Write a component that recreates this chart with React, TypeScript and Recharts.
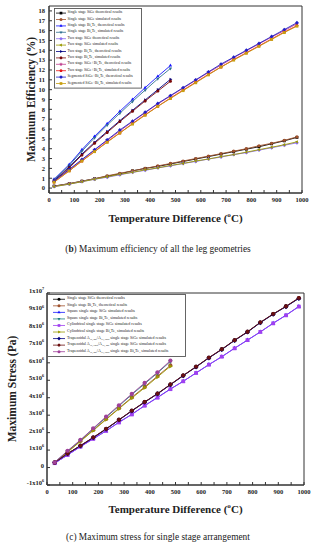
import React from "react";
import { LineChart, Line, XAxis, YAxis, ReferenceArea, Legend } from "recharts";

const FONT = '"Liberation Serif", "Times New Roman", serif';
const INK = "#222";

// ---- (b) maximum efficiency, % ----
const EFF_T = [20, 80, 130, 180, 230, 280, 330, 380, 430, 480, 530, 580, 630, 680, 730, 780, 830, 880, 930, 980];
const EFF_SS_SIGE_TH = [0.2, 0.45, 0.7, 0.95, 1.2, 1.45, 1.75, 2.0, 2.2, 2.45, 2.7, 2.95, 3.2, 3.45, 3.7, 3.95, 4.2, 4.5, 4.8, 5.15];
const EFF_SS_SIGE_SIM = [0.2, 0.45, 0.7, 0.95, 1.25, 1.5, 1.75, 2.0, 2.25, 2.5, 2.75, 3.0, 3.25, 3.5, 3.75, 4.0, 4.3, 4.55, 4.85, 5.2];
const EFF_SS_BT_TH = [0.9, 2.4, 3.9, 5.25, 6.55, 7.8, 9.0, 10.2, 11.35, 12.45];
const EFF_SS_BT_SIM = [0.85, 2.3, 3.75, 5.1, 6.4, 7.6, 8.8, 9.95, 11.1, 12.15];
const EFF_TS_SIGE_TH = [0.15, 0.4, 0.65, 0.9, 1.1, 1.35, 1.6, 1.8, 2.05, 2.25, 2.5, 2.7, 2.95, 3.15, 3.4, 3.6, 3.85, 4.1, 4.35, 4.6];
const EFF_TS_SIGE_SIM = [0.15, 0.4, 0.65, 0.9, 1.15, 1.4, 1.6, 1.85, 2.05, 2.3, 2.5, 2.75, 2.95, 3.2, 3.4, 3.65, 3.9, 4.15, 4.4, 4.7];
const EFF_TS_BT_TH = [0.75, 2.15, 3.45, 4.65, 5.75, 6.85, 7.9, 8.95, 10.0, 11.05];
const EFF_TS_BT_SIM = [0.7, 2.05, 3.35, 4.55, 5.65, 6.75, 7.8, 8.85, 9.85, 10.85];
const EFF_TS_MIX_TH = [0.7, 1.85, 2.85, 3.85, 4.85, 5.8, 6.75, 7.65, 8.55, 9.35, 10.15, 10.95, 11.75, 12.5, 13.25, 13.95, 14.65, 15.35, 16.0, 16.7];
const EFF_TS_MIX_SIM = [0.6, 1.75, 2.75, 3.7, 4.7, 5.6, 6.55, 7.45, 8.3, 9.15, 9.95, 10.75, 11.55, 12.3, 13.05, 13.75, 14.45, 15.15, 15.85, 16.5];
const EFF_SEG_TH = [0.7, 1.9, 2.9, 3.9, 4.9, 5.9, 6.8, 7.7, 8.6, 9.4, 10.2, 11.0, 11.8, 12.6, 13.3, 14.0, 14.7, 15.4, 16.1, 16.8];
const EFF_SEG_SIM = [0.6, 1.75, 2.75, 3.7, 4.65, 5.6, 6.5, 7.4, 8.3, 9.1, 9.9, 10.7, 11.5, 12.3, 13.0, 13.7, 14.4, 15.1, 15.8, 16.45];
const EFF_X_TICKS = [0, 50, 100, 150, 200, 250, 300, 350, 400, 450, 500, 550, 600, 650, 700, 750, 800, 850, 900, 950, 1000];
const EFF_Y_TICKS = [0, 1, 2, 3, 4, 5, 6, 7, 8, 9, 10, 11, 12, 13, 14, 15, 16, 17, 18];

// ---- (c) maximum stress, Pa ----
const ST_T = [30, 80, 130, 180, 230, 280, 330, 380, 430, 480, 530, 580, 630, 680, 730, 780, 830, 880, 930, 980];
const ST_SIGE_TH = [0.29e6, 0.8e6, 1.25e6, 1.72e6, 2.21e6, 2.73e6, 3.25e6, 3.75e6, 4.23e6, 4.75e6, 5.27e6, 5.77e6, 6.29e6, 6.77e6, 7.29e6, 7.77e6, 8.31e6, 8.79e6, 9.23e6, 9.7e6];
const ST_BT_TH = [0.28e6, 0.9e6, 1.52e6, 2.15e6, 2.78e6, 3.4e6, 4.02e6, 4.62e6, 5.24e6, 5.85e6];
const ST_SQ_SIGE = [0.25e6, 0.72e6, 1.2e6, 1.65e6, 2.1e6, 2.6e6, 3.05e6, 3.55e6, 4.02e6, 4.5e6, 4.94e6, 5.42e6, 5.9e6, 6.35e6, 6.84e6, 7.3e6, 7.77e6, 8.27e6, 8.73e6, 9.23e6];
const ST_SQ_BT = [0.3e6, 0.94e6, 1.56e6, 2.22e6, 2.88e6, 3.53e6, 4.18e6, 4.8e6, 5.42e6, 6.08e6];
const ST_CY_SIGE = [0.25e6, 0.72e6, 1.19e6, 1.64e6, 2.1e6, 2.58e6, 3.04e6, 3.54e6, 4.0e6, 4.49e6, 4.94e6, 5.42e6, 5.89e6, 6.35e6, 6.83e6, 7.3e6, 7.77e6, 8.26e6, 8.72e6, 9.22e6];
const ST_CY_BT = [0.28e6, 0.88e6, 1.5e6, 2.12e6, 2.75e6, 3.37e6, 3.98e6, 4.57e6, 5.19e6, 5.8e6];
const ST_TR1_SIGE = [0.29e6, 0.79e6, 1.24e6, 1.71e6, 2.2e6, 2.72e6, 3.24e6, 3.74e6, 4.22e6, 4.74e6, 5.26e6, 5.76e6, 6.28e6, 6.76e6, 7.28e6, 7.76e6, 8.3e6, 8.78e6, 9.22e6, 9.69e6];
const ST_TR2_SIGE = [0.29e6, 0.8e6, 1.26e6, 1.73e6, 2.22e6, 2.74e6, 3.26e6, 3.76e6, 4.24e6, 4.76e6, 5.28e6, 5.78e6, 6.3e6, 6.78e6, 7.3e6, 7.78e6, 8.32e6, 8.8e6, 9.24e6, 9.72e6];
const ST_TR1_BT = [0.3e6, 0.96e6, 1.58e6, 2.25e6, 2.92e6, 3.57e6, 4.22e6, 4.85e6, 5.46e6, 6.12e6];
const ST_X_TICKS = EFF_X_TICKS;
const ST_Y_TICKS = [-1e6, 0, 1e6, 2e6, 3e6, 4e6, 5e6, 6e6, 7e6, 8e6, 9e6, 1e7];

type Shape = "square" | "circle" | "up" | "down" | "left" | "right" | "diamond" | "hex" | "star" | "pent";
interface Series { key: string; name: string; color: string; shape: Shape; values: number[] }

const EFF_SERIES: Series[] = [
  { key: "a", name: "Single stage SiGe theoretical results", color: "#000000", shape: "square", values: EFF_SS_SIGE_TH },
  { key: "b", name: "Single stage SiGe simulated results", color: "#a0522d", shape: "circle", values: EFF_SS_SIGE_SIM },
  { key: "c", name: "Single stage Bi_{2}Te_{3} theoretical results", color: "#1515ff", shape: "up", values: EFF_SS_BT_TH },
  { key: "d", name: "Single stage Bi_{2}Te_{3} simulated results", color: "#2f7090", shape: "down", values: EFF_SS_BT_SIM },
  { key: "e", name: "Two stage SiGe theoretical results", color: "#8a6cf0", shape: "diamond", values: EFF_TS_SIGE_TH },
  { key: "f", name: "Two stage SiGe simulated results", color: "#9a9a00", shape: "left", values: EFF_TS_SIGE_SIM },
  { key: "g", name: "Two stage Bi_{2}Te_{3} theoretical results", color: "#000080", shape: "right", values: EFF_TS_BT_TH },
  { key: "h", name: "Two stage Bi_{2}Te_{3} simulated results", color: "#7a0a0a", shape: "hex", values: EFF_TS_BT_SIM },
  { key: "i", name: "Two stage SiGe+Bi_{2}Te_{3} theoretical results", color: "#c0408f", shape: "star", values: EFF_TS_MIX_TH },
  { key: "j", name: "Two stage SiGe+Bi_{2}Te_{3} simulated results", color: "#e81818", shape: "pent", values: EFF_TS_MIX_SIM },
  { key: "k", name: "Segmented SiGe+Bi_{2}Te_{3} theoretical results", color: "#2020c8", shape: "diamond", values: EFF_SEG_TH },
  { key: "l", name: "Segmented SiGe+Bi_{2}Te_{3} simulated results", color: "#c8a010", shape: "square", values: EFF_SEG_SIM },
];

const ST_SERIES: Series[] = [
  { key: "a", name: "Single stage SiGe theoretical results", color: "#000000", shape: "circle", values: ST_SIGE_TH },
  { key: "b", name: "Single stage Bi_{2}Te_{3} theoretical results", color: "#a0522d", shape: "circle", values: ST_BT_TH },
  { key: "c", name: "Square single stage SiGe simulated results", color: "#1515ff", shape: "up", values: ST_SQ_SIGE },
  { key: "d", name: "Square single stage Bi_{2}Te_{3} simulated results", color: "#208080", shape: "down", values: ST_SQ_BT },
  { key: "e", name: "Cylindrical single stage SiGe simulated results", color: "#a040f0", shape: "square", values: ST_CY_SIGE },
  { key: "f", name: "Cylindrical single stage Bi_{2}Te_{3} simulated results", color: "#9a9a00", shape: "right", values: ST_CY_BT },
  { key: "g", name: "Trapezoidal A_{Ni, hot}/A_{Ni, cold} single stage SiGe simulated results", color: "#000080", shape: "diamond", values: ST_TR1_SIGE },
  { key: "h", name: "Trapezoidal A_{Ni, cold}/A_{Ni, hot} single stage SiGe simulated results", color: "#6a1010", shape: "hex", values: ST_TR2_SIGE },
  { key: "i", name: "Trapezoidal A_{Ni, hot}/A_{Ni, cold} single stage Bi_{2}Te_{3} simulated results", color: "#a0409a", shape: "circle", values: ST_TR1_BT },
];

function buildRows(ts: number[], series: Series[]) {
  return ts.map((t, i) => {
    const row: Record<string, number | null> = { t };
    series.forEach((s) => { row[s.key] = i < s.values.length ? s.values[i] : null; });
    return row;
  });
}
const EFF_ROWS = buildRows(EFF_T, EFF_SERIES);
const ST_ROWS = buildRows(ST_T, ST_SERIES);

// "_{..}" = subscript, "^{..}" = superscript
function rich(s: string, fs: number) {
  const parts = s.split(/([_^]\{[^}]*\})/).filter(Boolean);
  let shift = 0;
  return parts.map((p, i) => {
    const m = /^([_^])\{(.*)\}$/.exec(p);
    if (m) {
      const target = m[1] === "_" ? fs * 0.3 : -fs * 0.45;
      const dy = target - shift; shift = target;
      return <tspan key={i} dy={dy} fontSize={fs * 0.65}>{m[2]}</tspan>;
    }
    const dy = -shift; shift = 0;
    return <tspan key={i} dy={dy}>{p}</tspan>;
  });
}

function polyPts(cx: number, cy: number, r: number, n: number, rot: number, inner = 0) {
  const pts: string[] = [];
  const k = inner ? n * 2 : n;
  for (let i = 0; i < k; i++) {
    const a = rot + (i * 2 * Math.PI) / k;
    const rr = inner && i % 2 ? r * inner : r;
    pts.push(`${cx + rr * Math.cos(a)},${cy + rr * Math.sin(a)}`);
  }
  return pts.join(" ");
}

function Marker({ cx, cy, r, shape, color }: { cx: number; cy: number; r: number; shape: Shape; color: string }) {
  const P = Math.PI;
  switch (shape) {
    case "square": return <rect x={cx - r * 0.9} y={cy - r * 0.9} width={r * 1.8} height={r * 1.8} fill={color} />;
    case "circle": return <circle cx={cx} cy={cy} r={r} fill={color} />;
    case "up": return <polygon points={polyPts(cx, cy, r * 1.2, 3, -P / 2)} fill={color} />;
    case "down": return <polygon points={polyPts(cx, cy, r * 1.2, 3, P / 2)} fill={color} />;
    case "left": return <polygon points={polyPts(cx, cy, r * 1.2, 3, P)} fill={color} />;
    case "right": return <polygon points={polyPts(cx, cy, r * 1.2, 3, 0)} fill={color} />;
    case "diamond": return <polygon points={polyPts(cx, cy, r * 1.2, 4, -P / 2)} fill={color} />;
    case "hex": return <polygon points={polyPts(cx, cy, r * 1.05, 6, 0)} fill={color} />;
    case "pent": return <polygon points={polyPts(cx, cy, r * 1.1, 5, -P / 2)} fill={color} />;
    case "star": return <polygon points={polyPts(cx, cy, r * 1.3, 5, -P / 2, 0.45)} fill={color} />;
  }
  return null;
}

function dotFor(s: Series, r: number) {
  return (p: any) => {
    if (p.cx == null || p.cy == null || p.value == null || Number.isNaN(p.cy))
      return <g key={`d-${s.key}-${p.index}`} />;
    return <g key={`d-${s.key}-${p.index}`}><Marker cx={p.cx} cy={p.cy} r={r} shape={s.shape} color={s.color} /></g>;
  };
}

function LegendBox({ items, width, rowH, pad, fs, lineX, textX }:
  { items: Series[]; width: number; rowH: number; pad: number; fs: number; lineX: [number, number]; textX: number }) {
  const h = items.length * rowH + pad * 2;
  const mx = (lineX[0] + lineX[1]) / 2;
  return (
    <svg width={width} height={h} style={{ display: "block" }}>
      <rect x={0.5} y={0.5} width={width - 1} height={h - 1} fill="#fff" stroke="#555" strokeWidth={0.9} />
      {items.map((it, i) => {
        const y = pad + rowH * (i + 0.5);
        return (
          <g key={it.key}>
            <line x1={lineX[0]} x2={lineX[1]} y1={y} y2={y} stroke={it.color} strokeWidth={0.8} />
            <Marker cx={mx} cy={y} r={1.5} shape={it.shape} color={it.color} />
            <text x={textX} y={y} dy="0.35em" fontSize={fs} fontFamily={FONT} fill={INK}>{rich(it.name, fs)}</text>
          </g>
        );
      })}
    </svg>
  );
}

function XTitle({ viewBox, dy }: any) {
  const fs = 11;
  return (
    <text x={viewBox.x + viewBox.width / 2} y={viewBox.y + dy} dy="0.35em" textAnchor="middle"
      fontFamily={FONT} fontWeight={700} fontSize={fs} fill={INK}>
      {rich("Temperature Difference (^{o}C)", fs)}
    </text>
  );
}

function YTitle({ viewBox, cx, text }: any) {
  const cy = viewBox.y + viewBox.height / 2;
  return (
    <text x={cx} y={cy} dy="0.35em" textAnchor="middle" transform={`rotate(-90 ${cx} ${cy})`}
      fontFamily={FONT} fontWeight={700} fontSize={11.5} fill={INK}>{text}</text>
  );
}

function StressTick({ x, y, payload }: any) {
  const v = payload.value as number;
  const fs = 6.5;
  let label = "0";
  if (v !== 0) {
    const exp = Math.floor(Math.log10(Math.abs(v)));
    const man = Math.round(v / Math.pow(10, exp));
    label = `${man}x10^{${exp}}`;
  }
  return (
    <text x={x} y={y} dy="0.35em" textAnchor="end" fontFamily={FONT} fontWeight={700} fontSize={fs} fill={INK}>
      {rich(label, fs)}
    </text>
  );
}

const TICK = { fontFamily: FONT, fontWeight: 700, fontSize: 6.5, fill: INK };
const AXIS_LINE = { stroke: "#333", strokeWidth: 1 };
const hundreds = (v: number) => (v % 100 === 0 ? String(v) : "");

function EfficiencyChart() {
  return (
    <LineChart width={316} height={233} data={EFF_ROWS} margin={{ top: 6, right: 14, bottom: 0, left: 0 }}>
      <ReferenceArea x1={0} x2={1000} y1={-0.5} y2={18.5} fill="none" stroke="#333" strokeWidth={1} />
      <XAxis dataKey="t" type="number" domain={[0, 1000]} ticks={EFF_X_TICKS} interval={0} height={40}
        tick={TICK} tickFormatter={hundreds} tickSize={-3} tickMargin={7} tickLine={AXIS_LINE} axisLine={AXIS_LINE}
        label={(p: any) => <XTitle viewBox={p.viewBox} dy={29} />} />
      <YAxis type="number" domain={[-0.5, 18.5]} ticks={EFF_Y_TICKS} interval={0} width={49}
        tick={TICK} tickSize={-3} tickMargin={7} tickLine={AXIS_LINE} axisLine={AXIS_LINE}
        label={(p: any) => <YTitle viewBox={p.viewBox} cx={31} text="Maximum Efficiency (%)" />} />
      <Legend layout="vertical" align="center" verticalAlign="middle"
        wrapperStyle={{ left: 54, top: 8, width: 88 }}
        content={() => <LegendBox items={EFF_SERIES} width={88} rowH={6.4} pad={1.9} fs={3.8} lineX={[2, 12]} textX={13.5} />} />
      {EFF_SERIES.map((s) => (
        <Line key={s.key} dataKey={s.key} name={s.name} stroke={s.color} strokeWidth={0.9}
          dot={dotFor(s, 1.6)} activeDot={false} connectNulls={false} isAnimationActive={false} />
      ))}
    </LineChart>
  );
}

function StressChart() {
  return (
    <LineChart width={316} height={243} data={ST_ROWS} margin={{ top: 11, right: 12, bottom: 0, left: 0 }}>
      <ReferenceArea x1={0} x2={1000} y1={-1e6} y2={1e7} fill="none" stroke="#333" strokeWidth={1} />
      <XAxis dataKey="t" type="number" domain={[0, 1000]} ticks={ST_X_TICKS} interval={0} height={40}
        tick={TICK} tickFormatter={hundreds} tickSize={-3} tickMargin={7} tickLine={AXIS_LINE} axisLine={AXIS_LINE}
        label={(p: any) => <XTitle viewBox={p.viewBox} dy={28} />} />
      <YAxis type="number" domain={[-1e6, 1e7]} ticks={ST_Y_TICKS} interval={0} width={47}
        tick={<StressTick />} tickSize={-3} tickMargin={6} tickLine={AXIS_LINE} axisLine={AXIS_LINE}
        label={(p: any) => <YTitle viewBox={p.viewBox} cx={12} text="Maximum Stress (Pa)" />} />
      <Legend layout="vertical" align="center" verticalAlign="middle"
        wrapperStyle={{ left: 47, top: 12, width: 139 }}
        content={() => <LegendBox items={ST_SERIES} width={139} rowH={6.55} pad={2} fs={4} lineX={[6, 18]} textX={20} />} />
      {ST_SERIES.map((s) => (
        <Line key={s.key} dataKey={s.key} name={s.name} stroke={s.color} strokeWidth={0.9}
          dot={dotFor(s, 2.1)} activeDot={false} connectNulls={false} isAnimationActive={false} />
      ))}
    </LineChart>
  );
}

const CAPTION: React.CSSProperties = {
  position: "absolute", left: 0, width: 316, textAlign: "center",
  fontFamily: FONT, fontSize: 9.4, lineHeight: "11px", color: INK,
};

export default function App() {
  return (
    <div style={{ position: "fixed", left: 0, top: 0, width: 316, height: 550, background: "#fff", overflow: "hidden" }}>
      <div style={{ position: "absolute", left: 0, top: 0 }}><EfficiencyChart /></div>
      <div style={{ ...CAPTION, top: 244 }}>(<b>b</b>) Maximum efficiency of all the leg geometries</div>
      <div style={{ position: "absolute", left: 0, top: 282 }}><StressChart /></div>
      <div style={{ ...CAPTION, top: 532 }}>(c) Maximum stress for single stage arrangement</div>
    </div>
  );
}
